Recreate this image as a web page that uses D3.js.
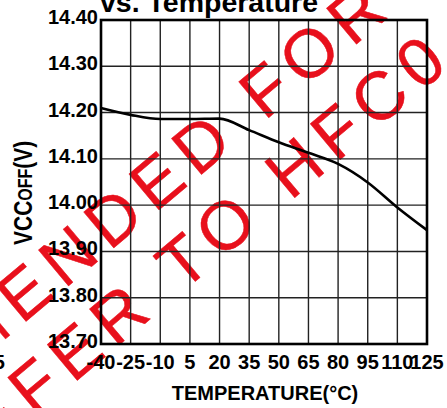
<!DOCTYPE html>
<html>
<head>
<meta charset="utf-8">
<script src="https://cdn.jsdelivr.net/npm/d3@7"></script>
<style>
  body { margin: 0; background: #fff; }
  svg { display: block; font-family: "Liberation Sans", Arial, sans-serif; }
</style>
</head>
<body>
<div id="chart"></div>
<script>
// data
var temps = [-40, -25, -10, 5, 20, 35, 50, 65, 80, 95, 110, 125];
var vcc = [14.210, 14.195, 14.186, 14.186, 14.187, 14.162, 14.136, 14.113, 14.089, 14.049, 13.995, 13.946];
var yTicks = [13.70, 13.80, 13.90, 14.00, 14.10, 14.20, 14.30, 14.40];
var xTicks = [-40, -25, -10, 5, 20, 35, 50, 65, 80, 95, 110, 125];

var W = 447, H = 408;
var margin = {top: 20, right: 20, bottom: 64, left: 101};

var svg = d3.select("#chart").append("svg")
    .attr("width", W)
    .attr("height", H);

svg.append("rect").attr("width", W).attr("height", H).attr("fill", "#fff");

var x = d3.scaleLinear().domain([-40, 125]).range([margin.left, W - margin.right]);
var y = d3.scaleLinear().domain([13.7, 14.4]).range([H - margin.bottom, margin.top]);

// watermark, under the grid
var wm = svg.append("g")
    .attr("transform", "rotate(-40)")
    .style("font-size", "68px")
    .style("letter-spacing", "10px")
    .attr("fill", "#e8101c")
    .attr("stroke", "#e8101c")
    .attr("stroke-width", 0.5);
wm.append("text").attr("x", -562).attr("y", 263).text("RECOMMENDED FOR NEW DESIGNS");
wm.append("text").attr("x", -357).attr("y", 341).text("REFER TO HFC0");

// grid
svg.append("g").selectAll("line").data(xTicks).join("line")
    .attr("x1", d => x(d)).attr("x2", d => x(d))
    .attr("y1", y(14.4)).attr("y2", y(13.7))
    .attr("stroke", "#222").attr("stroke-width", 1.4);
svg.append("g").selectAll("line").data(yTicks).join("line")
    .attr("x1", x(-40)).attr("x2", x(125))
    .attr("y1", d => y(d)).attr("y2", d => y(d))
    .attr("stroke", "#222").attr("stroke-width", 1.4);

// frame
svg.append("rect")
    .attr("x", x(-40)).attr("y", y(14.4))
    .attr("width", x(125) - x(-40)).attr("height", y(13.7) - y(14.4))
    .attr("fill", "none").attr("stroke", "#000").attr("stroke-width", 2.6);

// curve
var line = d3.line()
    .x((d, i) => x(temps[i]))
    .y(d => y(d))
    .curve(d3.curveMonotoneX);
svg.append("path").datum(vcc)
    .attr("d", line)
    .attr("fill", "none").attr("stroke", "#000").attr("stroke-width", 2.6);

// tick labels
svg.append("g").selectAll("text").data(yTicks).join("text")
    .attr("x", 98).attr("y", d => y(d) + 4)
    .attr("text-anchor", "end")
    .style("font-size", "20px").style("font-weight", "bold")
    .text(d => d.toFixed(2));

svg.append("g").selectAll("text").data(xTicks).join("text")
    .attr("x", d => x(d)).attr("y", 369)
    .attr("text-anchor", "middle")
    .style("font-size", "20px").style("font-weight", "bold")
    .text(d => d);

// leftover label of the neighbouring chart
svg.append("text").attr("x", 5).attr("y", 369).attr("text-anchor", "end")
    .style("font-size", "20px").style("font-weight", "bold").text("125");

// axis titles
svg.append("text").attr("x", 265).attr("y", 400).attr("text-anchor", "middle")
    .style("font-size", "20px").style("font-weight", "bold")
    .text("TEMPERATURE(°C)");

var yl = svg.append("text")
    .attr("transform", "translate(32,245) rotate(-90) scale(1,1.25)")
    .style("font-size", "21px").style("font-weight", "bold");
yl.append("tspan").text("VCC");
yl.append("tspan").style("font-size", "16px").text("OFF");
yl.append("tspan").text("(V)");

// title, cut at the top
svg.append("text").attr("x", 100).attr("y", 12)
    .style("font-size", "28.5px").style("font-weight", "bold")
    .text("vs. Temperature");
</script>
</body>
</html>
